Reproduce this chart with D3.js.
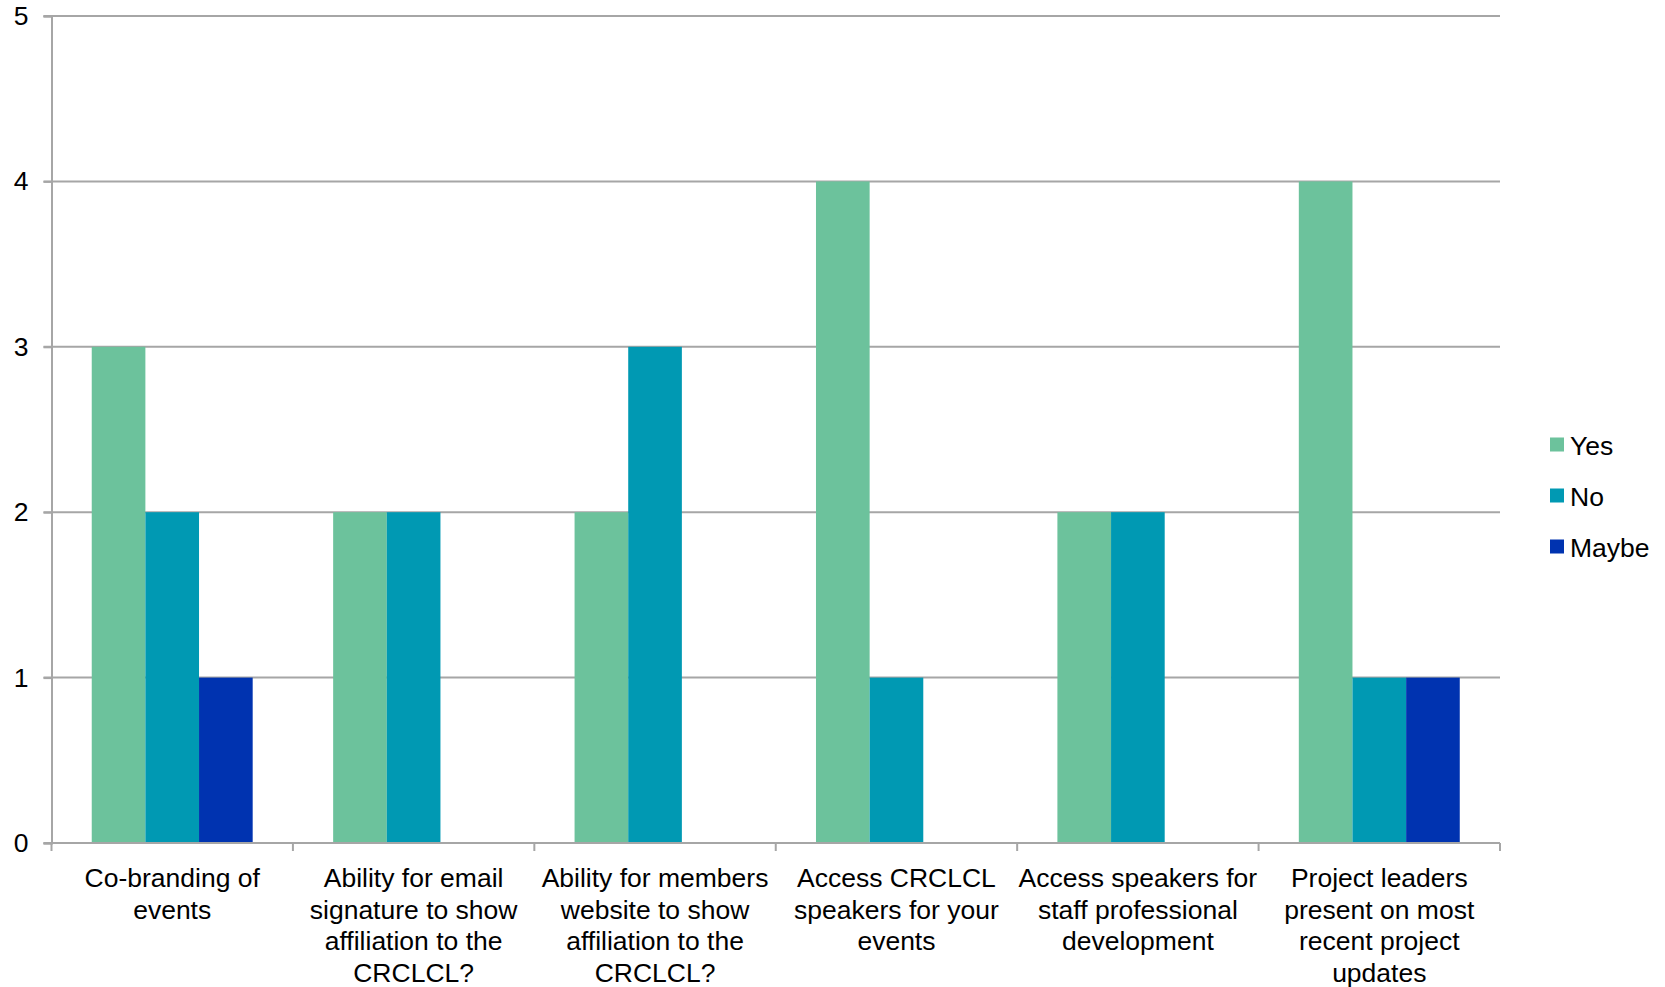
<!DOCTYPE html>
<html>
<head>
<meta charset="utf-8">
<script src="https://cdn.jsdelivr.net/npm/d3@7"></script>
<style>
  html, body { margin: 0; padding: 0; background: #fff; }
  svg { display: block; font-family: "Liberation Sans", Arial, sans-serif; }
</style>
</head>
<body>
<svg id="chart" width="1665" height="987"></svg>
<script>
// Survey responses per member benefit
const categories = [
  ["Co-branding of", "events"],
  ["Ability for email", "signature to show", "affiliation to the", "CRCLCL?"],
  ["Ability for members", "website to show", "affiliation to the", "CRCLCL?"],
  ["Access CRCLCL", "speakers for your", "events"],
  ["Access speakers for", "staff professional", "development"],
  ["Project leaders", "present on most", "recent project", "updates"]
];
const seriesNames = ["Yes", "No", "Maybe"];
const yesValues   = [3, 2, 2, 4, 2, 4];
const noValues    = [2, 2, 3, 1, 2, 1];
const maybeValues = [1, 0, 0, 0, 0, 1];
const yTicks = [0, 1, 2, 3, 4, 5];
const colors = ["#6cc29c", "#0099b3", "#0033b0"];

const seriesValues = [yesValues, noValues, maybeValues];

const margin = { left: 51.5, right: 165, top: 16, bottom: 144 };
const W = 1665, H = 987;
const plotW = W - margin.left - margin.right;
const plotH = H - margin.top - margin.bottom;
const fontSize = 26.5;
const gridColor = "#a6a6a6";

const svg = d3.select("#chart");
const g = svg.append("g").attr("transform", `translate(${margin.left},${margin.top})`);

const x0 = d3.scaleBand().domain(d3.range(categories.length)).range([0, plotW]).paddingInner(0).paddingOuter(0);
// Groups take 2/3 of each band, centred
const groupPad = (x0.bandwidth() - x0.bandwidth() * 2 / 3) / 2;
const x1 = d3.scaleBand().domain(seriesNames).range([groupPad, x0.bandwidth() - groupPad]).padding(0);
const y = d3.scaleLinear().domain([0, 5]).range([plotH, 0]);

// Horizontal gridlines
g.append("g").selectAll("line").data(yTicks).join("line")
  .attr("x1", -8).attr("x2", plotW)
  .attr("y1", d => y(d)).attr("y2", d => y(d))
  .attr("stroke", gridColor).attr("stroke-width", 2);

// Y axis
const yAxis = g.append("g")
  .call(d3.axisLeft(y).tickValues(yTicks).tickFormat(d3.format("d")).tickSize(8).tickPadding(15));
yAxis.select(".domain").attr("stroke", gridColor).attr("stroke-width", 2);
yAxis.selectAll(".tick line").attr("stroke", gridColor).attr("stroke-width", 2);
yAxis.selectAll(".tick text").attr("font-size", fontSize).attr("fill", "#000")
  .attr("font-family", "Liberation Sans, Arial, sans-serif");

// Bars
const groups = g.append("g").selectAll("g").data(categories.map((c, i) => i)).join("g")
  .attr("transform", i => `translate(${x0(i)},0)`);
groups.selectAll("rect")
  .data(i => seriesNames.map((s, k) => ({ s, k, v: seriesValues[k][i] })))
  .join("rect")
  .attr("x", d => x1(d.s))
  .attr("width", x1.bandwidth())
  .attr("y", d => y(d.v))
  .attr("height", d => y(0) - y(d.v))
  .attr("fill", d => colors[d.k]);

// X axis with category ticks at band boundaries
const xAxisG = g.append("g").attr("transform", `translate(0,${plotH})`);
xAxisG.append("line").attr("x1", 0).attr("x2", plotW).attr("y1", 0).attr("y2", 0)
  .attr("stroke", gridColor).attr("stroke-width", 2);
const boundaries = d3.range(categories.length + 1).map(i => i === categories.length ? plotW : x0(i));
xAxisG.selectAll("line.tick").data(boundaries).join("line").attr("class", "tick")
  .attr("x1", d => d).attr("x2", d => d).attr("y1", 0).attr("y2", 8)
  .attr("stroke", gridColor).attr("stroke-width", 2);

// Category labels
const labels = xAxisG.selectAll("text.cat").data(categories).join("text").attr("class", "cat")
  .attr("x", (d, i) => x0(i) + x0.bandwidth() / 2)
  .attr("y", 44)
  .attr("text-anchor", "middle")
  .attr("font-size", fontSize)
  .attr("fill", "#000");
labels.selectAll("tspan").data(d => d).join("tspan")
  .attr("x", function () { return d3.select(this.parentNode).attr("x"); })
  .attr("dy", (d, j) => j === 0 ? 0 : 31.5)
  .text(d => d);

// Legend
const legend = svg.append("g").attr("transform", "translate(1550,437.5)");
const items = legend.selectAll("g").data(seriesNames).join("g")
  .attr("transform", (d, i) => `translate(0,${i * 51})`);
items.append("rect").attr("width", 14).attr("height", 14).attr("fill", (d, i) => colors[i]);
items.append("text").attr("x", 20).attr("y", 17.5)
  .attr("font-size", fontSize).attr("fill", "#000").text(d => d);
</script>
</body>
</html>
